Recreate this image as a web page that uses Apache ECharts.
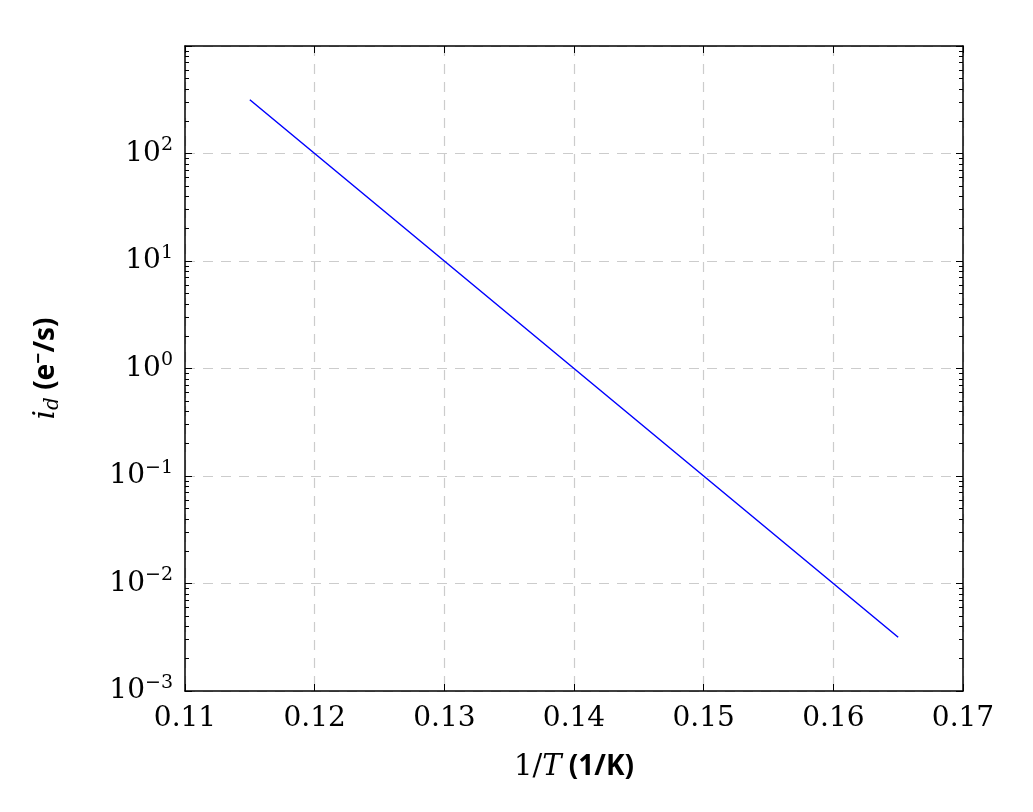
<!DOCTYPE html>
<html><head><meta charset="utf-8">
<script src="https://cdn.jsdelivr.net/npm/echarts@6/dist/echarts.min.js"></script>
<style>html,body{margin:0;padding:0;background:#fff}#c{width:1033px;height:812px}</style>
</head><body><div id="c"></div>
<script>
const invT = [0.115, 0.12, 0.125, 0.13, 0.135, 0.14, 0.145, 0.15, 0.155, 0.16, 0.165];
const darkCurrent = [316, 100, 31.6, 10, 3.16, 1, 0.316, 0.1, 0.0316, 0.01, 0.00316];
const xTicks = [0.11, 0.12, 0.13, 0.14, 0.15, 0.16, 0.17];

const chart = echarts.init(document.getElementById('c'));
const serif = 'DejaVu Serif';
function yLab(v){
  const e = Math.round(Math.log10(v));
  return '{b|10}{s|' + String(e).replace('-','−') + '}';
}
const yRich = {b:{fontFamily:serif,fontSize:28,color:'#000'}, s:{fontFamily:serif,fontSize:19,color:'#000',verticalAlign:'top',padding:[0,0,16,0]}};
const common = {axisLine:{show:true,lineStyle:{color:'#000',width:1.5}}, axisTick:{show:true,inside:true,length:7,lineStyle:{color:'#000'}}};
chart.setOption({
  animation:false,
  grid:{left:185,right:70,top:46,bottom:121},
  xAxis:[{type:'value',min:0.11,max:0.17,interval:0.01,position:'bottom',
    ...common,
    axisLabel:{fontFamily:serif,fontSize:28,color:'#000',margin:14,formatter:v=>v.toFixed(2)},
    splitLine:{show:true,lineStyle:{type:[10,8],color:'#ccc',width:1.2}},
    name:'{a|1/}{i|T}{b| (1/K)}',nameLocation:'middle',nameGap:62,
    nameTextStyle:{rich:{a:{fontFamily:serif,fontSize:29,color:'#000'},i:{fontFamily:serif,fontStyle:'italic',fontSize:29,color:'#000'},b:{fontFamily:'Noto Sans',fontWeight:'bold',fontSize:28,color:'#000'}}}
  },{type:'value',min:0.11,max:0.17,interval:0.01,position:'top',...common,axisLabel:{show:false},splitLine:{show:false}}],
  yAxis:[{type:'log',min:0.001,max:1000,logBase:10,position:'left',
    ...common,
    minorTick:{show:true,splitNumber:9,length:4,lineStyle:{color:'#000'}},
    axisLabel:{margin:12,formatter:yLab,rich:yRich,showMaxLabel:false},
    splitLine:{show:true,lineStyle:{type:[10,8],color:'#ccc',width:1.2}},
    name:'{i|i}{d|d}{b| (e}{s|−}{b|/s)}',nameLocation:'middle',nameGap:122,nameRotate:90,
    nameTextStyle:{rich:{i:{fontFamily:serif,fontStyle:'italic',fontSize:30,color:'#000'},d:{fontFamily:serif,fontStyle:'italic',fontSize:20,color:'#000',verticalAlign:'bottom',padding:[12,0,0,0]},b:{fontFamily:'Noto Sans',fontWeight:'bold',fontSize:28,color:'#000'},s:{fontFamily:'Noto Sans',fontWeight:'bold',fontSize:19,color:'#000',verticalAlign:'top',padding:[0,0,14,0]}}}
  },{type:'log',min:0.001,max:1000,logBase:10,position:'right',...common,
    minorTick:{show:true,splitNumber:9,length:4,lineStyle:{color:'#000'}},
    axisLabel:{show:false},splitLine:{show:false}}],
  series:[{type:'line',data:invT.map((x,i)=>[x,darkCurrent[i]]),showSymbol:false,
    lineStyle:{color:'#0000ff',width:1.5}}]
});
</script></body></html>
